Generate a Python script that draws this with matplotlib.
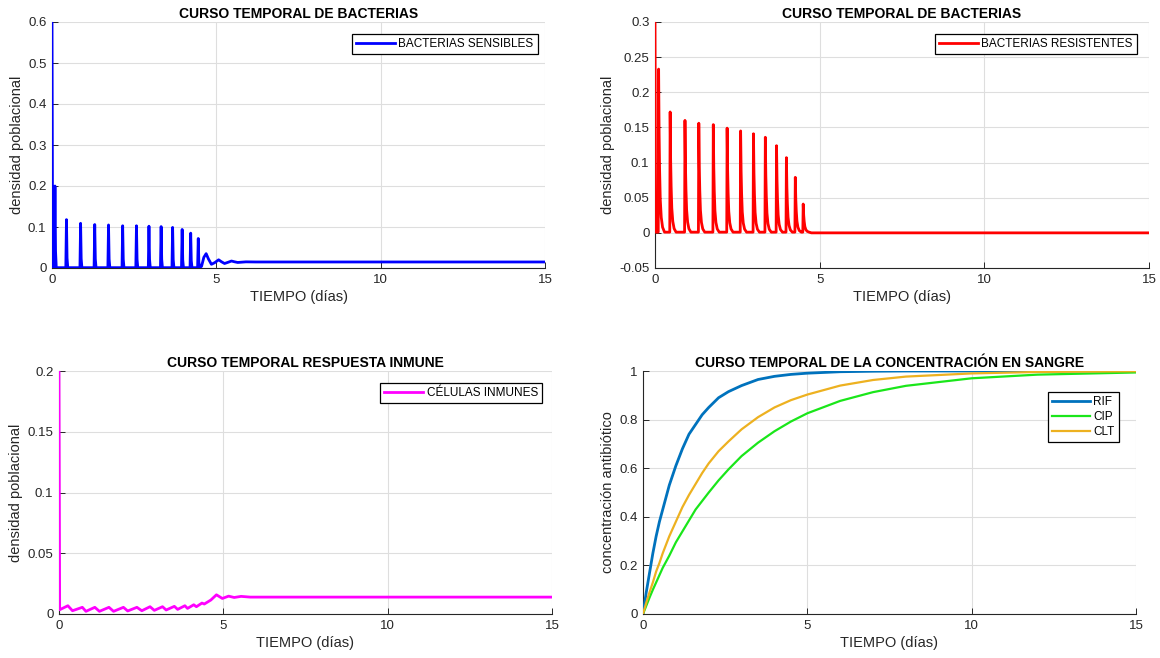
import numpy as np
import matplotlib
matplotlib.use("Agg")
import matplotlib.pyplot as plt
from matplotlib.ticker import FuncFormatter

plt.rcParams['font.family'] = ['Liberation Sans', 'DejaVu Sans']

# ---------------- data ----------------
# Sensitive bacteria: initial value, spike times/peaks, damped tail
sens_t0 = [0.0, 0.02]
sens_y0 = [0.60, 0.001]
sens_spike_t = [0.09, 0.44, 0.87, 1.30, 1.72, 2.15, 2.57, 2.95, 3.32, 3.67, 3.96, 4.22, 4.45]
sens_spike_y = [0.200, 0.118, 0.109, 0.106, 0.105, 0.103, 0.103, 0.102, 0.101, 0.099, 0.094, 0.085, 0.072]
sens_tail_t = [4.55, 4.62, 4.69, 4.76, 4.85, 4.95, 5.07, 5.16, 5.25, 5.36, 5.46, 5.56, 5.65, 5.9, 6.2, 15.0]
sens_tail_y = [0.004, 0.026, 0.035, 0.022, 0.009, 0.013, 0.020, 0.015, 0.011, 0.014, 0.017, 0.015, 0.0135, 0.0150, 0.0147, 0.0147]

# Resistant bacteria
res_t0 = [0.0, 0.02]
res_y0 = [0.30, 0.001]
res_spike_t = [0.11, 0.46, 0.91, 1.33, 1.77, 2.19, 2.60, 2.99, 3.35, 3.69, 3.99, 4.26, 4.50]
res_spike_y = [0.233, 0.172, 0.160, 0.156, 0.154, 0.149, 0.145, 0.141, 0.136, 0.124, 0.107, 0.079, 0.041]
res_tail_t = [4.75, 15.0]
res_tail_y = [0.0, 0.0]

# Immune cells
imm_t = [0.0, 0.02, 0.27, 0.41, 0.71, 0.82, 1.09, 1.23, 1.52, 1.66, 1.96, 2.09, 2.37, 2.52,
         2.77, 2.90, 3.15, 3.26, 3.51, 3.61, 3.83, 3.91, 4.10, 4.18, 4.35, 4.42, 4.62, 4.79,
         4.97, 5.16, 5.33, 5.54, 5.82, 15.0]
imm_y = [0.200, 0.0035, 0.0068, 0.0027, 0.0055, 0.0022, 0.0055, 0.0022, 0.0055, 0.0022,
         0.0055, 0.0025, 0.0055, 0.0027, 0.0060, 0.0030, 0.0060, 0.0033, 0.0063, 0.0038,
         0.0068, 0.0046, 0.0076, 0.0060, 0.0090, 0.0082, 0.0115, 0.0158, 0.0128, 0.0147,
         0.0136, 0.0145, 0.0139, 0.0139]

# Antibiotic concentration
conc_t = [0, 0.1, 0.2, 0.3, 0.4, 0.5, 0.6, 0.8, 1.0, 1.2, 1.4, 1.6, 1.8, 2.0, 2.3, 2.6, 3.0,
          3.5, 4.0, 4.5, 5.0, 6.0, 7.0, 8.0, 10.0, 12.0, 15.0]
rif = [0, 0.09, 0.17, 0.25, 0.32, 0.38, 0.43, 0.53, 0.61, 0.68, 0.74, 0.78, 0.82, 0.85, 0.89,
       0.915, 0.94, 0.965, 0.978, 0.986, 0.991, 0.997, 0.999, 1.0, 1.0, 1.0, 1.0]
cip = [0, 0.034, 0.068, 0.10, 0.13, 0.16, 0.19, 0.24, 0.295, 0.34, 0.385, 0.43, 0.465, 0.50, 0.55,
       0.595, 0.65, 0.705, 0.752, 0.792, 0.826, 0.877, 0.913, 0.939, 0.97, 0.985, 0.994]
clt = [0, 0.047, 0.09, 0.13, 0.175, 0.21, 0.25, 0.32, 0.38, 0.44, 0.49, 0.535, 0.58, 0.62, 0.67,
       0.71, 0.76, 0.81, 0.85, 0.88, 0.903, 0.94, 0.963, 0.977, 0.99, 0.996, 0.999]

# spike shape (style): offsets in days and fraction of peak
sens_prof_dt = [-0.02, 0.0, 0.018, 0.04]
sens_prof_f = [0.0, 1.0, 0.2, 0.0]
res_prof_dt = [-0.012, 0.0, 0.015, 0.03, 0.05, 0.08, 0.12, 0.18]
res_prof_f = [0.0, 1.0, 0.6, 0.38, 0.2, 0.09, 0.03, 0.0]


def build(t0, y0, st, sy, tt, ty, pdt, pf, base):
    T = list(t0)
    Y = list(y0)
    for t, p in zip(st, sy):
        for d, f in zip(pdt, pf):
            T.append(t + d)
            Y.append(base + f * (p - base))
    T += list(tt)
    Y += list(ty)
    return np.array(T), np.array(Y)


sT, sY = build(sens_t0, sens_y0, sens_spike_t, sens_spike_y, sens_tail_t, sens_tail_y,
               sens_prof_dt, sens_prof_f, 0.0008)
rT, rY = build(res_t0, res_y0, res_spike_t, res_spike_y, res_tail_t, res_tail_y,
               res_prof_dt, res_prof_f, 0.001)

# ---------------- figure ----------------
fig = plt.figure(figsize=(11.6, 6.58), dpi=100)
W, H = 1160, 658


def mk(l, r, t, b):
    return fig.add_axes([l / W, 1 - b / H, (r - l) / W, (b - t) / H])


ax1 = mk(52, 545, 22, 268)
ax2 = mk(655, 1149, 22, 268)
ax3 = mk(59, 552, 371, 614)
ax4 = mk(643, 1136, 371, 614)

fmt = FuncFormatter(lambda v, p: ('%g' % round(v, 6)))
tc = '#262626'


def style(ax, ylim, yticks, ylabel, title):
    ax.set_xlim(0, 15)
    ax.set_ylim(*ylim)
    ax.set_xticks([0, 5, 10, 15])
    ax.set_yticks(yticks)
    ax.xaxis.set_major_formatter(fmt)
    ax.yaxis.set_major_formatter(fmt)
    ax.grid(True, color='#dedede', linewidth=0.8)
    ax.set_axisbelow(True)
    for s in ['top', 'right']:
        ax.spines[s].set_visible(False)
    for s in ['left', 'bottom']:
        ax.spines[s].set_color(tc)
        ax.spines[s].set_linewidth(0.8)
    ax.tick_params(direction='in', length=4, width=0.7, colors=tc, labelsize=9.5,
                   labelcolor=tc, pad=4)
    ax.set_xlabel('TIEMPO (días)', fontsize=10.5, color=tc, labelpad=3)
    ax.set_ylabel(ylabel, fontsize=10.5, color=tc, labelpad=3)
    ax.set_title(title, fontsize=10, fontweight='bold', color='black', pad=3)


def leg(ax, anchor, hl=3.3, ls=0.35):
    lg = ax.legend(loc='upper right', bbox_to_anchor=anchor, borderaxespad=0,
                   fancybox=False, edgecolor='black', fontsize=8.5, handlelength=hl,
                   handletextpad=0.3, borderpad=0.35, labelspacing=ls, framealpha=1)
    lg.get_frame().set_linewidth(0.9)
    return lg


ax1.plot(sT, sY, color=(0, 0, 1), lw=2, label='BACTERIAS SENSIBLES', zorder=3)
style(ax1, (0, 0.6), np.arange(0, 0.61, 0.1), 'densidad poblacional', 'CURSO TEMPORAL DE BACTERIAS')
leg(ax1, (0.985, 0.952))

ax2.plot(rT, rY, color=(1, 0, 0), lw=2, label='BACTERIAS RESISTENTES', zorder=3)
style(ax2, (-0.05, 0.3), np.arange(-0.05, 0.301, 0.05), 'densidad poblacional', 'CURSO TEMPORAL DE BACTERIAS')
leg(ax2, (0.975, 0.952))

ax3.plot(imm_t, imm_y, color=(1, 0, 1), lw=2, label='CÉLULAS INMUNES', zorder=3)
style(ax3, (0, 0.2), np.arange(0, 0.201, 0.05), 'densidad poblacional', 'CURSO TEMPORAL RESPUESTA INMUNE')
leg(ax3, (0.98, 0.95))

ax4.plot(conc_t, rif, color=(0, 0.447, 0.741), lw=2, label='RIF', zorder=3)
ax4.plot(conc_t, cip, color=(0.1, 0.9, 0.1), lw=1.6, label='CIP', zorder=3)
ax4.plot(conc_t, clt, color=(0.929, 0.694, 0.125), lw=1.6, label='CLT', zorder=3)
style(ax4, (0, 1), np.arange(0, 1.01, 0.2), 'concentración antibiótico',
      'CURSO TEMPORAL DE LA CONCENTRACIÓN EN SANGRE')
leg(ax4, (0.965, 0.915), hl=3.2, ls=0.25)

fig.savefig('out.png', dpi=100, facecolor='white')
